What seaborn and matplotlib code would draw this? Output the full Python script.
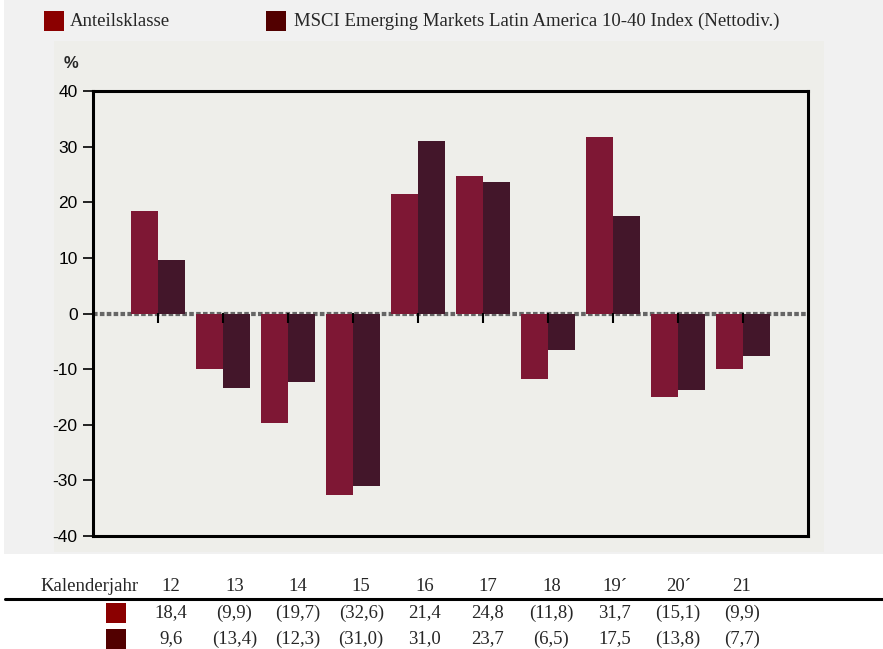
import matplotlib.pyplot as plt
import matplotlib.patches as mpatches
import matplotlib.lines as mlines
import seaborn as sns
import pandas as pd

# data
years = ["12", "13", "14", "15", "16", "17", "18", "19´", "20´", "21"]
fund = [18.4, -9.9, -19.7, -32.6, 21.4, 24.8, -11.8, 31.7, -15.1, -9.9]
bench = [9.6, -13.4, -12.3, -31.0, 31.0, 23.7, -6.5, 17.5, -13.8, -7.7]
series = ["Anteilsklasse",
          "MSCI Emerging Markets Latin America 10-40 Index (Nettodiv.)"]
bar_colors = ["#7e1734", "#43162a"]
key_colors = ["#8b0000", "#520000"]

df = pd.DataFrame({
    "year": years * 2,
    "value": fund + bench,
    "series": [series[0]] * len(years) + [series[1]] * len(years),
})


def fmt(v):
    s = f"{abs(v):.1f}".replace(".", ",")
    return f"({s})" if v < 0 else s


sns.set_style("white")
plt.rcParams["axes.unicode_minus"] = False
SERIF = "Liberation Serif"
SANS = "Liberation Sans"

W, H = 883, 649
fig = plt.figure(figsize=(W / 100, H / 100), dpi=100)
fig.patch.set_facecolor("white")


def fx(px):
    return px / W


def fy(py):
    return 1 - py / H


def rect(x0, y0, x1, y1, color, z=-2):
    fig.patches.append(mpatches.Rectangle((fx(x0), fy(y1)), fx(x1) - fx(x0), fy(y0) - fy(y1),
                                          transform=fig.transFigure, facecolor=color,
                                          edgecolor="none", zorder=z))


# backgrounds
rect(4, 0, 883, 554, "#f1f1f1", z=-3)
rect(54, 41, 824, 552, "#eeeeea", z=-2)

ax = fig.add_axes([fx(93), fy(536), fx(808) - fx(93), fy(91) - fy(536)])
ax.set_facecolor("#eeeeea")

ax.axhline(0, color="#666666", lw=3, ls=(0, (1.1, 0.55)), zorder=0.5)
sns.barplot(data=df, x="year", y="value", hue="series", palette=bar_colors,
            saturation=1, width=0.82, linewidth=0, legend=False, ax=ax, zorder=2)

ax.set_xlim(-1, 10)
ax.set_ylim(-40, 40)
ax.set_xticks([])
ax.set_xlabel("")
ax.set_ylabel("")
ax.set_yticks(range(-40, 41, 10))
ax.tick_params(axis="y", left=True, direction="out", length=7, width=1.2,
               pad=4, labelsize=12.5, colors="black")
for lab in ax.get_yticklabels():
    lab.set_fontfamily(SANS)
for sp in ax.spines.values():
    sp.set_visible(True)
    sp.set_color("black")
    sp.set_linewidth(2.2)

# category ticks hanging from the zero line, drawn over the bars
sec = ax.secondary_xaxis(0.5)
sec.set_zorder(5)
sec.set_xticks(range(len(years)))
sec.set_xticklabels([])
sec.xaxis.set_ticks_position("bottom")
sec.tick_params(direction="out", length=7, width=1.5, color="black")
for sp in sec.spines.values():
    sp.set_visible(False)

fig.text(fx(71), fy(63.5), "%", ha="center", va="center", family=SANS,
         fontsize=12, fontweight="bold")

# legend
leg_x = [(44, 70), (266, 294)]
for (sx, tx), name, c in zip(leg_x, series, key_colors):
    rect(sx, 11, sx + 20, 31, c, z=1)
    fig.text(fx(tx), fy(21.5), name, ha="left", va="center", family=SERIF, fontsize=13.5)

# table below
fig.text(fx(40), fy(586.5), "Kalenderjahr", ha="left", va="center", family=SERIF, fontsize=13.5)
fig.lines.append(mlines.Line2D([fx(5), 1], [fy(599), fy(599)], transform=fig.transFigure,
                               color="black", lw=2.2))
row_y = [613, 639]
for i, y in enumerate(years):
    fig.text(fx(171 + 63.4 * i), fy(586.5), y, ha="center", va="center",
             family=SERIF, fontsize=13.5)
for vals, ry, c in zip([fund, bench], row_y, key_colors):
    rect(106, ry - 10, 126, ry + 10, c, z=1)
    for i, v in enumerate(vals):
        fig.text(fx(171 + 63.4 * i), fy(ry), fmt(v), ha="center", va="center",
                 family=SERIF, fontsize=13.5)

fig.savefig("out.png", dpi=100)
